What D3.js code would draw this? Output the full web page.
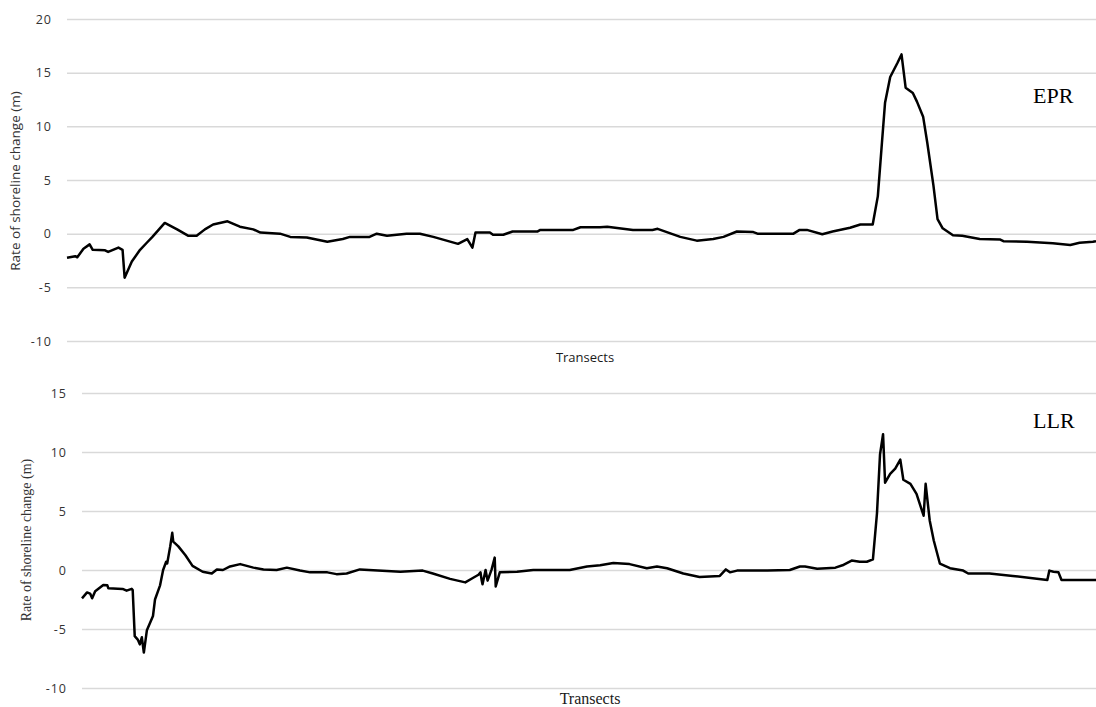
<!DOCTYPE html>
<html>
<head>
<meta charset="utf-8">
<script src="https://cdn.jsdelivr.net/npm/d3@7"></script>
<style>
  html, body { margin: 0; padding: 0; background: #fff; }
  svg { display: block; }
  .grid line { stroke: #d9d9d9; stroke-width: 1.5; }
  .grid path { display: none; }
  .line { fill: none; stroke: #000; stroke-width: 2.5; stroke-linejoin: round; }
</style>
</head>
<body>
<div id="chart"></div>
<script>
// EPR panel (top)
const transectsEPR = [0, 8, 10, 16, 22, 25, 37, 40, 50, 54, 56, 63, 71, 78, 83, 95, 107, 118, 126, 134, 142, 156,
  168, 181, 188, 207, 217, 233, 253, 268, 275, 285, 294, 301, 311, 330, 343, 356, 380, 389, 394, 397,
  411, 414, 424, 433, 457, 460, 492, 499, 518, 525, 550, 569, 574, 596, 612, 628, 638, 651, 667, 671,
  706, 712, 719, 734, 744, 761, 771, 783, 788, 792, 795, 800, 807, 811, 815, 822, 826, 832, 836, 842,
  846, 851, 861, 870, 887, 907, 910, 933, 958, 975, 984, 997, 1000];
const valuesEPR = [-2.24, -2.1, -2.2, -1.4, -1.0, -1.5, -1.55, -1.7, -1.3, -1.5, -4.1, -2.6, -1.5, -0.8, -0.3, 1.0, 0.4, -0.2, -0.2, 0.4, 0.85, 1.15,
  0.65, 0.4, 0.1, 0.0, -0.3, -0.35, -0.75, -0.5, -0.3, -0.3, -0.3, 0.0, -0.2, 0.0, 0.0, -0.3, -0.95, -0.5, -1.3, 0.1,
  0.1, -0.1, -0.1, 0.2, 0.2, 0.35, 0.35, 0.6, 0.6, 0.65, 0.35, 0.35, 0.45, -0.3, -0.65, -0.5, -0.3, 0.2, 0.15, 0.0,
  0.0, 0.35, 0.35, -0.05, 0.2, 0.55, 0.85, 0.85, 3.5, 8.5, 12.2, 14.6, 15.9, 16.7, 13.6, 13.1, 12.3, 10.9, 8.5, 4.5,
  1.35, 0.5, -0.15, -0.2, -0.5, -0.55, -0.7, -0.75, -0.9, -1.05, -0.85, -0.75, -0.7];

// LLR panel (bottom)
const transectsLLR = [0, 5, 8, 10, 13, 21, 25, 26, 40, 44, 49, 50, 52, 55, 57, 59, 61, 64, 70, 72,
  77, 80, 83, 84, 87, 89, 90, 95, 102, 109, 119, 128, 133, 139, 146, 156, 169, 179, 192, 202,
  215, 225, 242, 251, 261, 274, 314, 336, 346, 363, 378, 385, 391, 393, 394, 395, 398, 400, 404, 407,
  408, 412, 429, 445, 481, 498, 511, 524, 540, 557, 567, 577, 593, 609, 629, 635, 639, 646, 676, 698,
  708, 713, 725, 743, 750, 759, 767, 774, 780, 784, 787, 790, 792, 797, 802, 807, 810, 817, 823, 830,
  832, 836, 840, 846, 856, 869, 874, 895, 918, 952, 954, 958, 963, 966, 1000];
const valuesLLR = [-2.4, -1.9, -2.0, -2.4, -1.8, -1.27, -1.3, -1.55, -1.6, -1.75, -1.6, -1.7, -5.6, -5.9, -6.3, -5.7, -7.0, -5.1, -3.9, -2.5,
  -1.3, 0.0, 0.7, 0.55, 2.0, 3.15, 2.4, 2.0, 1.25, 0.35, -0.15, -0.3, 0.05, 0.0, 0.3, 0.5, 0.2, 0.05, 0.0, 0.2,
  -0.05, -0.2, -0.2, -0.35, -0.3, 0.05, -0.15, -0.05, -0.3, -0.75, -1.05, -0.7, -0.4, -0.2, -0.8, -1.2, 0.0, -0.9, 0.05, 1.05,
  -1.4, -0.2, -0.15, 0.0, 0.0, 0.3, 0.4, 0.6, 0.5, 0.15, 0.3, 0.15, -0.3, -0.6, -0.5, 0.05, -0.2, -0.05, -0.05, 0.0,
  0.3, 0.3, 0.1, 0.2, 0.4, 0.8, 0.7, 0.7, 0.9, 4.8, 9.8, 11.5, 7.4, 8.15, 8.6, 9.35, 7.65, 7.3, 6.45, 4.6,
  7.3, 4.2, 2.5, 0.55, 0.15, -0.05, -0.3, -0.3, -0.5, -0.85, -0.05, -0.15, -0.2, -0.85, -0.85];

const ticksEPR = [-10, -5, 0, 5, 10, 15, 20];
const ticksLLR = [-10, -5, 0, 5, 10, 15];

const W = 1096, H = 707;
const svg = d3.select("#chart").append("svg")
  .attr("width", W)
  .attr("height", H);

function drawPanel(opt) {
  const x = d3.scaleLinear().domain([0, 1000]).range([opt.left, W]);
  const y = d3.scaleLinear().domain([-10, opt.ticks[opt.ticks.length - 1]]).range([opt.bottom, opt.top]);

  // grid lines
  svg.append("g")
    .attr("class", "grid")
    .attr("transform", `translate(${opt.left},0)`)
    .call(d3.axisLeft(y).tickValues(opt.ticks).tickSize(-(W - opt.left)).tickFormat(""));

  // tick labels
  svg.append("g").selectAll("text")
    .data(opt.ticks)
    .enter()
    .append("text")
    .attr("x", opt.labelX)
    .attr("y", d => y(d))
    .attr("dy", "0.36em")
    .attr("text-anchor", "end")
    .attr("fill", "#333")
    .style("font-family", "'Open Sans', sans-serif")
    .style("font-size", "12.5px")
    .style("letter-spacing", "1px")
    .text(d => d);

  const data = opt.xs.map((t, i) => ({t: t, v: opt.vs[i]}));
  const line = d3.line()
    .x(d => x(d.t))
    .y(d => y(d.v));

  svg.append("path")
    .datum(data)
    .attr("class", "line")
    .attr("d", line);

  // y axis title
  svg.append("text")
    .attr("transform", `translate(${opt.titleX},${opt.titleY}) rotate(-90)`)
    .attr("text-anchor", "middle")
    .attr("fill", "#333")
    .style("font-family", opt.font)
    .style("font-size", opt.titleSize)
    .text("Rate of shoreline change (m)");

  // x axis title
  svg.append("text")
    .attr("x", opt.xTitleX)
    .attr("y", opt.xTitleY)
    .attr("text-anchor", "middle")
    .attr("fill", "#1a1a1a")
    .style("font-family", opt.font)
    .style("font-size", opt.xTitleSize)
    .text("Transects");

  // panel label
  svg.append("text")
    .attr("x", 1033)
    .attr("y", opt.nameY)
    .attr("fill", "#000")
    .style("font-family", "'Liberation Serif', 'Times New Roman', serif")
    .style("font-size", "22px")
    .text(opt.name);
}

drawPanel({
  xs: transectsEPR, vs: valuesEPR, ticks: ticksEPR,
  left: 67, top: 19, bottom: 341, labelX: 52,
  titleX: 20, titleY: 181, font: "'Open Sans', sans-serif", titleSize: "13.5px",
  xTitleX: 585, xTitleY: 362, xTitleSize: "13px",
  name: "EPR", nameY: 103
});

drawPanel({
  xs: transectsLLR, vs: valuesLLR, ticks: ticksLLR,
  left: 82, top: 393, bottom: 688, labelX: 67,
  titleX: 31, titleY: 540, font: "'Liberation Serif', 'Times New Roman', serif", titleSize: "14px",
  xTitleX: 590, xTitleY: 704, xTitleSize: "16px",
  name: "LLR", nameY: 428
});
</script>
</body>
</html>
